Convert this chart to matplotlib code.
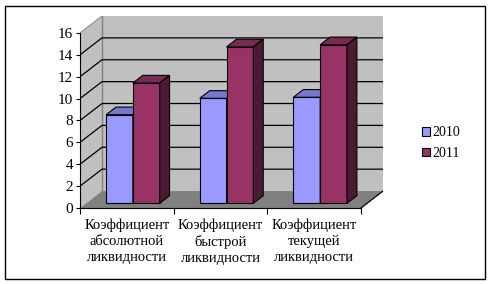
import matplotlib
matplotlib.use('Agg')
import matplotlib.pyplot as plt
from matplotlib.patches import Polygon, Rectangle

plt.rcParams['font.family'] = ['Liberation Serif', 'DejaVu Serif']

# данные диаграммы
categories = ['Коэффициент\nабсолютной\nликвидности',
              'Коэффициент\nбыстрой\nликвидности',
              'Коэффициент\nтекущей\nликвидности']
series_names = ['2010', '2011']
values_2010 = [8.1, 9.6, 9.7]
values_2011 = [11.0, 14.3, 14.5]
y_ticks = [0, 2, 4, 6, 8, 10, 12, 14, 16]

colors_face = ['#9999FF', '#993366']
colors_top = ['#7777CC', '#7A2952']
colors_side = ['#5C5C99', '#4C1A33']

# параметры "объёма" (косоугольная проекция, как в Excel)
DX = 0.235   # сдвиг в глубину по x (в долях категории)
DY = 1.55    # сдвиг в глубину по y (в единицах значения)
t0, t1 = 0.275, 0.725   # положение столбиков по глубине
w = 1 / 3.5              # ширина столбика (зазор 150%)
ymax = 16

fig = plt.figure(figsize=(4.91, 2.84), dpi=100)
ax = fig.add_axes([80 / 491, (284 - 208) / 284, 303 / 491, 192 / 284])
ax.set_xlim(0, 3 + DX)
ax.set_ylim(0, ymax + DY)

n = len(categories)

# стенки и основание
ax.add_patch(Polygon([(0, 0), (DX, DY), (DX, ymax + DY), (0, ymax)],
                     closed=True, facecolor='#C0C0C0', edgecolor='none', zorder=1))
ax.add_patch(Rectangle((DX, DY), n, ymax, facecolor='#C0C0C0', edgecolor='none', zorder=1))
ax.add_patch(Polygon([(0, 0), (DX, DY), (n + DX, DY), (n, 0)],
                     closed=True, facecolor='#808080', edgecolor='none', zorder=1))
ax.plot([DX, DX], [DY, ymax + DY], color='#808080', lw=1, zorder=2)
ax.plot([0, DX], [ymax, ymax + DY], color='#909090', lw=0.8, zorder=2)

# линии сетки
for v in y_ticks[1:-1]:
    ax.plot([0, DX, n + DX], [v, v + DY, v + DY], color='black', lw=0.9, zorder=2)

# правое ребро основания
ax.plot([n, n + DX], [0, DY], color='black', lw=0.9, zorder=2)

# столбики
for i in range(n):
    for s, vals in enumerate([values_2010, values_2011]):
        v = vals[i]
        x0 = i + 0.5 - w + s * w
        fx, fy = x0 + t0 * DX, t0 * DY
        bx, by = x0 + t1 * DX, t1 * DY
        z = 3 + i * 2 + s
        ax.add_patch(Rectangle((fx, fy), w, v, facecolor=colors_face[s],
                               edgecolor='black', lw=0.8, zorder=z))
        ax.add_patch(Polygon([(fx, fy + v), (fx + w, fy + v), (bx + w, by + v), (bx, by + v)],
                             closed=True, facecolor=colors_top[s], edgecolor='black',
                             lw=0.8, zorder=z))
        ax.add_patch(Polygon([(fx + w, fy), (bx + w, by), (bx + w, by + v), (fx + w, fy + v)],
                             closed=True, facecolor=colors_side[s], edgecolor='black',
                             lw=0.8, zorder=z))

# оси
for side in ['top', 'right']:
    ax.spines[side].set_visible(False)
ax.spines['left'].set_bounds(0, ymax)
ax.spines['bottom'].set_bounds(0, n)
ax.spines['left'].set_zorder(20)
ax.spines['bottom'].set_zorder(20)
ax.set_yticks(y_ticks)
ax.tick_params(axis='y', direction='out', length=3, width=0.8, pad=2, labelsize=11)
ax.set_xticks(range(n + 1))
ax.set_xticklabels([''] * (n + 1))
ax.tick_params(axis='x', which='major', direction='out', length=4, width=0.8)
ax.set_xticks([i + 0.5 for i in range(n)], minor=True)
ax.set_xticklabels(categories, minor=True, fontsize=10.5, linespacing=1.3)
ax.tick_params(axis='x', which='minor', length=0, pad=7.5)
ax.set_facecolor('none')

# легенда
handles = [Rectangle((0, 0), 1, 1, facecolor=c, edgecolor='black', lw=0.8) for c in colors_face]
fig.legend(handles, series_names, loc='center left', bbox_to_anchor=(415 / 491, 1 - 143 / 284),
           frameon=False, fontsize=10, handlelength=0.6, handleheight=0.6,
           handletextpad=0.15, labelspacing=0.55, borderpad=0)

# рамка вокруг диаграммы
fig.patches.append(Rectangle((5 / 491, 5 / 284), 480 / 491, 273 / 284, transform=fig.transFigure,
                             fill=False, edgecolor='black', lw=1))

plt.savefig('out.png', dpi=100)
